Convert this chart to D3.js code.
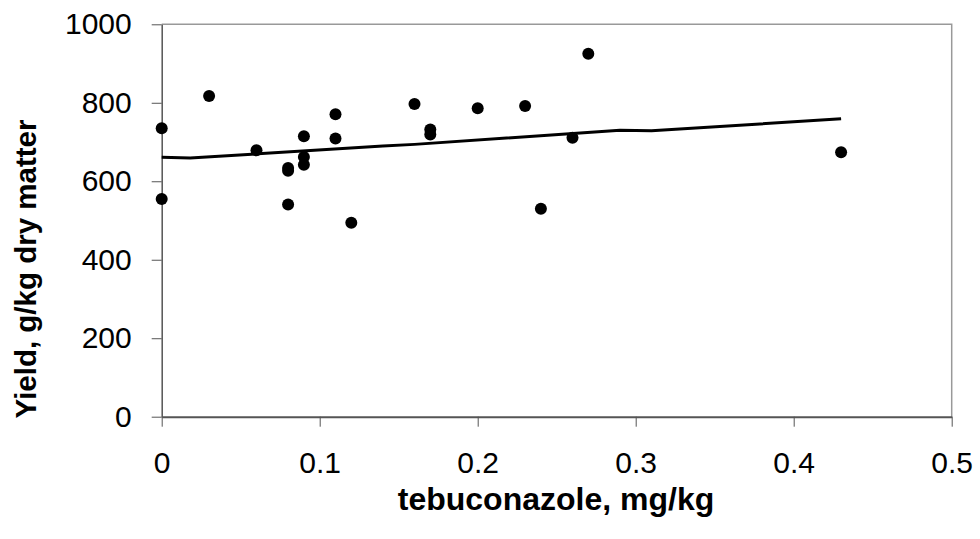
<!DOCTYPE html>
<html>
<head>
<meta charset="utf-8">
<script src="https://cdn.jsdelivr.net/npm/d3@7"></script>
<style>
  body { margin: 0; background: #fff; }
  svg { display: block; font-family: "Liberation Sans", Arial, sans-serif; }
  .axis text { fill: #000; font-size: 30px; }
  .axis line, .axis path { stroke: #555; }
  .title { font-weight: bold; fill: #000; }
</style>
</head>
<body>
<svg id="chart" width="980" height="539"></svg>
<script>
// measured points: tebuconazole (mg/kg) vs yield (g/kg dry matter)
const conc = [0, 0, 0.03, 0.06, 0.08, 0.08, 0.08, 0.09, 0.09, 0.09, 0.11, 0.11,
  0.12, 0.16, 0.17, 0.17, 0.2, 0.23, 0.24, 0.26, 0.27, 0.43]
const yieldVals = [735, 555, 817, 679, 634, 627, 541, 715, 662, 642, 771, 709,
  494, 797, 732, 719, 786, 792, 530, 711, 925, 674]

// trend line as drawn in the figure
const trendX = [0, 0.018, 0.14, 0.16, 0.29, 0.31, 0.43]
const trendY = [661, 659, 690, 694, 730, 729, 759]

const xTicks = [0, 0.1, 0.2, 0.3, 0.4, 0.5]
const yTicks = [0, 200, 400, 600, 800, 1000]

const svg = d3.select('#chart')
const plotLeft = 161.7, plotRight = 951.7, plotTop = 24.3, plotBottom = 416.7

const x = d3.scaleLinear().domain([0, 0.5]).range([plotLeft, plotRight])
const y = d3.scaleLinear().domain([0, 1000]).range([plotBottom, plotTop])

// frame (top and right)
svg.append('path')
  .attr('d', `M${plotLeft},${plotTop}H${plotRight}V${plotBottom}`)
  .attr('fill', 'none')
  .attr('stroke', '#999')
  .attr('stroke-width', 1.5)

// axes
let xAxis = svg.append('g')
  .attr('class', 'axis')
  .attr('transform', `translate(0,${plotBottom})`)
  .call(d3.axisBottom(x).tickValues(xTicks).tickSize(10).tickPadding(25)
    .tickSizeOuter(0).tickFormat(d3.format('~g')))
xAxis.select('.domain').attr('stroke', '#444').attr('stroke-width', 2)

let yAxis = svg.append('g')
  .attr('class', 'axis')
  .attr('transform', `translate(${plotLeft},0)`)
  .call(d3.axisLeft(y).tickValues(yTicks).tickSize(10).tickPadding(20)
    .tickSizeOuter(0).tickFormat(d3.format('d')))
yAxis.select('.domain').attr('stroke', '#222').attr('stroke-width', 1.5)
svg.selectAll('.axis').attr('font-family', null).attr('font-size', null)

// trend line
let line = d3.line()
  .x((d) => x(d[0]))
  .y((d) => y(d[1]))
svg.append('path')
  .datum(d3.zip(trendX, trendY))
  .attr('d', line)
  .attr('fill', 'none')
  .attr('stroke', '#000')
  .attr('stroke-width', 3)

// dots
svg.append('g')
  .selectAll('circle')
  .data(d3.zip(conc, yieldVals))
  .enter()
  .append('circle')
  .attr('cx', (d) => x(d[0]))
  .attr('cy', (d) => y(d[1]))
  .attr('r', 6)
  .attr('fill', '#000')

// titles
svg.append('text')
  .attr('class', 'title')
  .attr('x', 556)
  .attr('y', 510)
  .attr('text-anchor', 'middle')
  .attr('font-size', 32)
  .text('tebuconazole, mg/kg')

svg.append('text')
  .attr('class', 'title')
  .attr('transform', 'translate(36,269) rotate(-90)')
  .attr('text-anchor', 'middle')
  .attr('font-size', 29.5)
  .text('Yield, g/kg dry matter')
</script>
</body>
</html>
